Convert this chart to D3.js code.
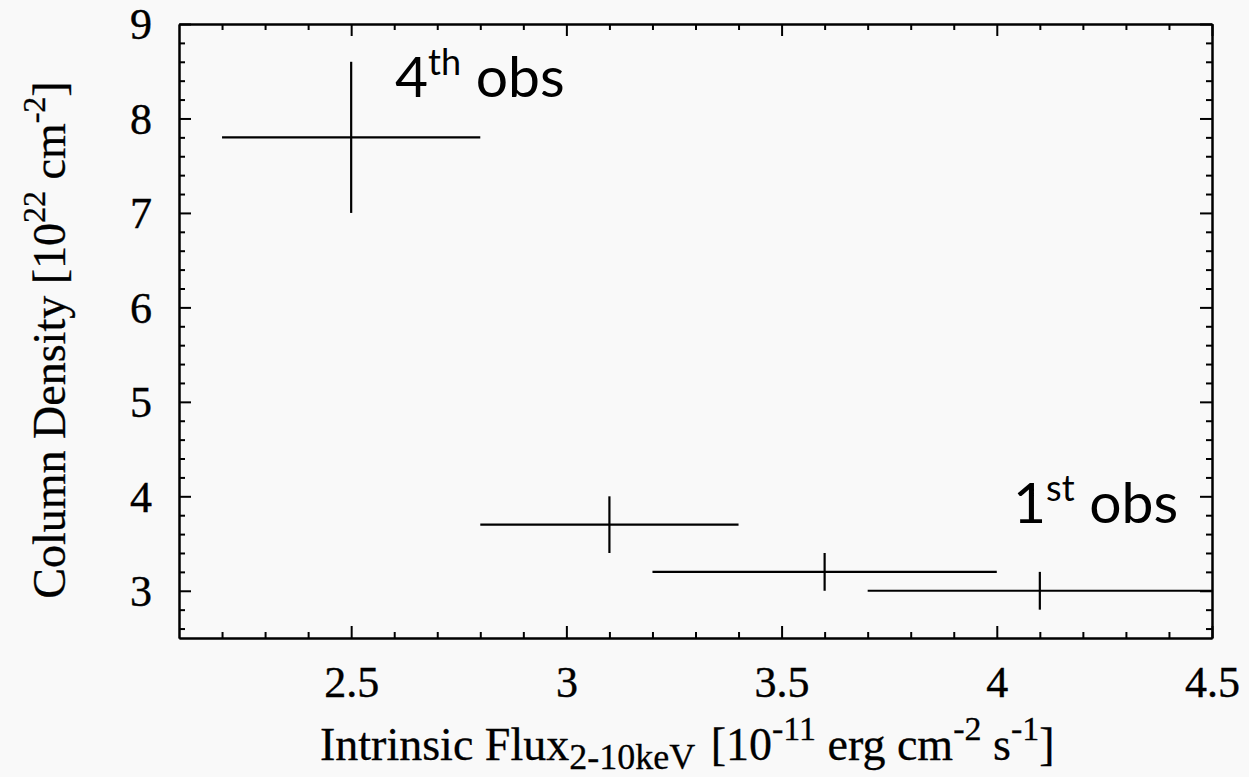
<!DOCTYPE html>
<html>
<head>
<meta charset="utf-8">
<script src="https://cdn.jsdelivr.net/npm/d3@7"></script>
<style>
  html, body { margin: 0; padding: 0; background: #f9f9f9; }
  svg { display: block; }
</style>
</head>
<body>
<svg id="chart" width="1249" height="777"></svg>
<script>
// Data
const fluxCenter = [2.5, 3.1, 3.6, 4.1];
const fluxLow    = [2.2, 2.8, 3.2, 3.7];
const fluxHigh   = [2.8, 3.4, 4.0, 4.5];
const nhCenter   = [7.8, 3.7, 3.2, 3.0];
const nhLow      = [7.0, 3.4, 3.0, 2.8];
const nhHigh     = [8.6, 4.0, 3.4, 3.2];

const xMajorTicks = [2.5, 3, 3.5, 4, 4.5];
const xMinorTicks = [2.2, 2.3, 2.4, 2.6, 2.7, 2.8, 2.9, 3.1, 3.2, 3.3, 3.4, 3.6, 3.7, 3.8, 3.9, 4.1, 4.2, 4.3, 4.4];
const yMajorTicks = [3, 4, 5, 6, 7, 8, 9];
const yMinorTicks = [2.6, 2.8, 3.2, 3.4, 3.6, 3.8, 4.2, 4.4, 4.6, 4.8, 5.2, 5.4, 5.6, 5.8, 6.2, 6.4, 6.6, 6.8, 7.2, 7.4, 7.6, 7.8, 8.2, 8.4, 8.6, 8.8];

const margin = {left: 179, top: 24, right: 37, bottom: 139};
const W = 1249, H = 777;
const iw = W - margin.left - margin.right;
const ih = H - margin.top - margin.bottom;

const svg = d3.select('#chart');
const g = svg.append('g').attr('transform', `translate(${margin.left},${margin.top})`);

const x = d3.scaleLinear().domain([2.1, 4.5]).range([0, iw]);
const y = d3.scaleLinear().domain([2.5, 9]).range([ih, 0]);

const serif = '"Liberation Serif", "Times New Roman", serif';
const sans = 'Lato, "Open Sans", sans-serif';

function styleAxis(sel) {
  sel.select('.domain').attr('stroke', '#000').attr('stroke-width', 2);
  sel.selectAll('.tick line').attr('stroke', '#000').attr('stroke-width', 2);
  sel.selectAll('.tick text').attr('font-family', serif).attr('font-size', 44)
    .attr('fill', '#000').attr('stroke', '#000').attr('stroke-width', 0.4);
}

const xAxis = g.append('g').attr('transform', `translate(0,${ih})`)
  .call(d3.axisBottom(x).tickValues(xMajorTicks).tickFormat(d3.format('')).tickSizeInner(-12).tickSizeOuter(0));
styleAxis(xAxis);
xAxis.selectAll('.tick text').attr('y', 59).attr('dy', 0);
const xAxisMinor = g.append('g').attr('transform', `translate(0,${ih})`)
  .call(d3.axisBottom(x).tickValues(xMinorTicks).tickFormat('').tickSizeInner(-6).tickSizeOuter(0));
styleAxis(xAxisMinor);

const xTop = g.append('g')
  .call(d3.axisTop(x).tickValues(xMajorTicks).tickFormat('').tickSizeInner(-12).tickSizeOuter(0));
styleAxis(xTop);
const xTopMinor = g.append('g')
  .call(d3.axisTop(x).tickValues(xMinorTicks).tickFormat('').tickSizeInner(-6).tickSizeOuter(0));
styleAxis(xTopMinor);

const yAxis = g.append('g')
  .call(d3.axisLeft(y).tickValues(yMajorTicks).tickFormat(d3.format('')).tickSizeInner(-12).tickSizeOuter(0));
styleAxis(yAxis);
yAxis.selectAll('.tick text').attr('x', -27).attr('dy', '0.34em');
const yAxisMinor = g.append('g')
  .call(d3.axisLeft(y).tickValues(yMinorTicks).tickFormat('').tickSizeInner(-6).tickSizeOuter(0));
styleAxis(yAxisMinor);

const yRight = g.append('g').attr('transform', `translate(${iw},0)`)
  .call(d3.axisRight(y).tickValues(yMajorTicks).tickFormat('').tickSizeInner(-12).tickSizeOuter(0));
styleAxis(yRight);
const yRightMinor = g.append('g').attr('transform', `translate(${iw},0)`)
  .call(d3.axisRight(y).tickValues(yMinorTicks).tickFormat('').tickSizeInner(-6).tickSizeOuter(0));
styleAxis(yRightMinor);

// Error bars
const pts = fluxCenter.map((c, i) => ({x: c, xl: fluxLow[i], xh: fluxHigh[i], y: nhCenter[i], yl: nhLow[i], yh: nhHigh[i]}));
const eb = g.append('g').attr('stroke', '#000').attr('stroke-width', 2.2);
eb.selectAll('line.h').data(pts).join('line').attr('class', 'h')
  .attr('x1', d => x(d.xl)).attr('x2', d => x(d.xh))
  .attr('y1', d => y(d.y)).attr('y2', d => y(d.y));
eb.selectAll('line.v').data(pts).join('line').attr('class', 'v')
  .attr('x1', d => x(d.x)).attr('x2', d => x(d.x))
  .attr('y1', d => y(d.yl)).attr('y2', d => y(d.yh));

// Annotations
function obsLabel(px, py, num, sup) {
  const t = svg.append('text').attr('x', px).attr('y', py)
    .attr('font-family', sans).attr('font-size', 57).attr('fill', '#000');
  t.append('tspan').text(num);
  t.append('tspan').text(sup).attr('font-size', 36).attr('dy', -22);
  t.append('tspan').text('\u00a0obs').attr('dy', 22);
}
obsLabel(395, 97, '4', 'th');
obsLabel(1013, 523, '1', 'st');

// Axis titles
const xt = svg.append('text').attr('x', 320).attr('y', 760)
  .attr('font-family', serif).attr('font-size', 46).attr('fill', '#000')
  .attr('stroke', '#000').attr('stroke-width', 0.3);
xt.append('tspan').text('Intrinsic Flux');
xt.append('tspan').text('2-10keV').attr('font-size', 36).attr('dy', 9);
xt.append('tspan').text(' [10').attr('dy', -9).attr('dx', 4);
xt.append('tspan').text('-11').attr('font-size', 34).attr('dy', -20);
xt.append('tspan').text(' erg cm').attr('dy', 20);
xt.append('tspan').text('-2').attr('font-size', 34).attr('dy', -20);
xt.append('tspan').text(' s').attr('dy', 20);
xt.append('tspan').text('-1').attr('font-size', 34).attr('dy', -20);
xt.append('tspan').text(']').attr('dy', 20);

const yt = svg.append('text').attr('transform', 'translate(65,340) rotate(-90)').attr('text-anchor', 'middle')
  .attr('font-family', serif).attr('font-size', 46).attr('fill', '#000')
  .attr('stroke', '#000').attr('stroke-width', 0.3);
yt.append('tspan').text('Column Density [10');
yt.append('tspan').text('22').attr('font-size', 32).attr('dy', -20);
yt.append('tspan').text(' cm').attr('dy', 20);
yt.append('tspan').text('-2').attr('font-size', 32).attr('dy', -20);
yt.append('tspan').text(']').attr('dy', 20);
</script>
</body>
</html>
